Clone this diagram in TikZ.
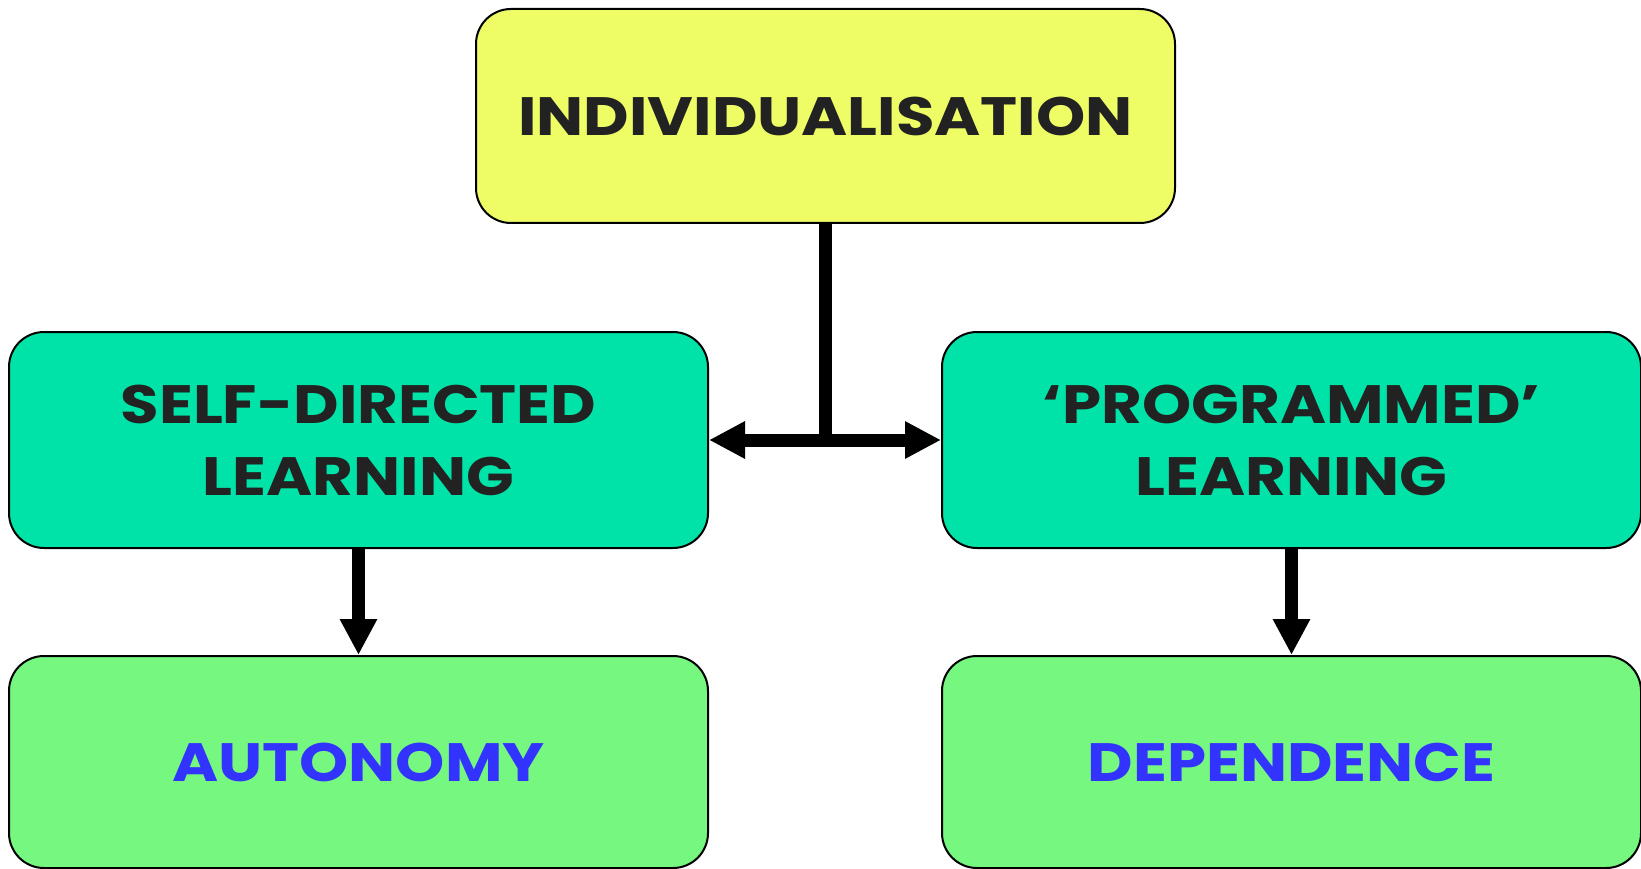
\documentclass[tikz,border=0pt]{standalone}
\usepackage{fontspec}
\setmainfont{Poppins}[FakeStretch=1.16]
\usetikzlibrary{arrows.meta}
\definecolor{topfill}{RGB}{238,253,102}
\definecolor{midfill}{RGB}{0,227,168}
\definecolor{botfill}{RGB}{118,248,128}
\definecolor{darktext}{RGB}{34,34,34}
\definecolor{bluetext}{RGB}{51,51,255}
\tikzset{
  box/.style={draw=black, line width=2pt, rounded corners=35pt, minimum width=699pt,
    inner sep=0pt, align=center, font=\fontsize{54}{72}\selectfont\bfseries},
  topbox/.style={box, fill=topfill, minimum height=214pt, text=darktext},
  midbox/.style={box, fill=midfill, minimum height=216pt, text=darktext},
  botbox/.style={box, fill=botfill, minimum height=212pt, text=bluetext},
  conn/.style={line width=13pt, black},
  arr/.style={conn, -{Triangle[length=36pt,width=35pt]}},
  darr/.style={conn, {Triangle[length=36pt,width=35pt]}-{Triangle[length=36pt,width=35pt]}}
}
\begin{document}
\begin{tikzpicture}[x=1pt,y=-1pt]
\useasboundingbox (0,0) rectangle (1641,869);
\node[topbox] (top) at (825.5,116) {INDIVIDUALISATION};
\node[midbox] (ml) at (358.5,440) {SELF-DIRECTED\\LEARNING};
\node[midbox] (mr) at (1291.5,440) {‘PROGRAMMED’\\LEARNING};
\node[botbox] (bl) at (358.5,762) {AUTONOMY};
\node[botbox] (br) at (1291.5,762) {DEPENDENCE};
\coordinate (j) at (top.south |- ml.east);
\draw[darr] (ml.east) -- (mr.west);
\draw[conn] (top.south) -- ([yshift=6.5pt]j);
\draw[arr] (ml.south) -- (bl.north);
\draw[arr] (mr.south) -- (br.north);
\end{tikzpicture}
\end{document}
